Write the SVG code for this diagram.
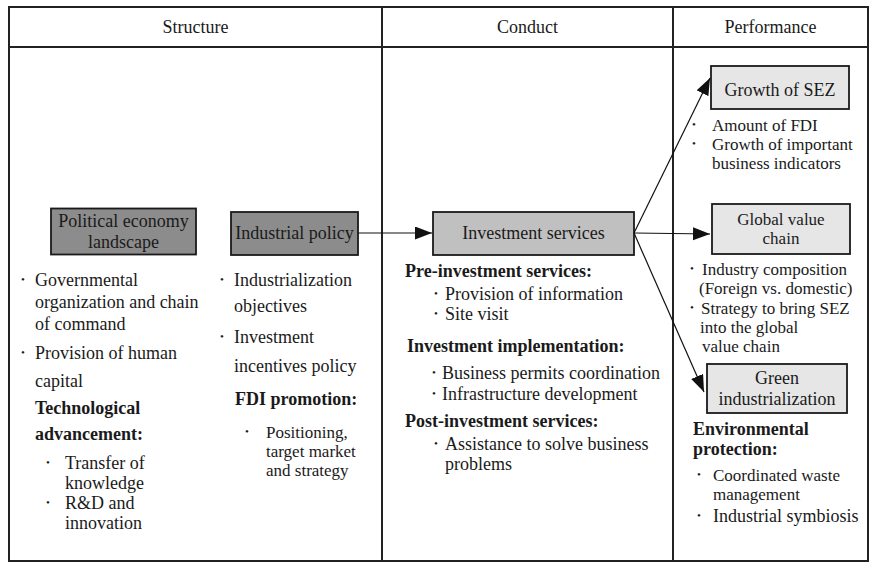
<svg xmlns="http://www.w3.org/2000/svg" width="870" height="563" viewBox="0 0 870 563">
<defs>
<style>
text{font-family:"Liberation Serif","Times New Roman",serif;font-size:18px;fill:#1a1a1a}
.b{font-weight:bold}
.c{text-anchor:middle}
.s{font-size:17px}
.d{font-size:11px}
.frame{fill:none;stroke:#222;stroke-width:2}
.dark{fill:#8c8c8c;stroke:#1a1a1a;stroke-width:1.8}
.mid{fill:#c0c0c0;stroke:#1a1a1a;stroke-width:1.8}
.light{fill:#e6e6e6;stroke:#1a1a1a;stroke-width:1.8}
.con{fill:none;stroke:#111;stroke-width:1.2}
</style>
<marker id="ah" markerUnits="userSpaceOnUse" markerWidth="18" markerHeight="14" refX="17" refY="6.5" orient="auto">
<path d="M0,0 L17,6.5 L0,13 z" fill="#111"/>
</marker>
</defs>
<rect width="870" height="563" fill="#fff"/>
<g id="table">
<rect class="frame" x="9" y="7" width="859" height="554"/>
<line class="frame" x1="9" y1="47" x2="868" y2="47"/>
<line class="frame" x1="382" y1="7" x2="382" y2="561"/>
<line class="frame" x1="673" y1="7" x2="673" y2="561"/>
<text class="c" x="195.5" y="33">Structure</text>
<text class="c" x="527.5" y="33">Conduct</text>
<text class="c" x="770.5" y="33">Performance</text>
</g>
<g id="political-economy">
<rect class="dark" x="51" y="208.5" width="145" height="46"/>
<text class="c" x="123.5" y="227">Political economy</text>
<text class="c" x="123.5" y="247.5">landscape</text>
<text class="d" x="21" y="283">•</text><text x="35" y="286">Governmental</text>
<text x="35" y="308">organization and chain</text>
<text x="35" y="330">of command</text>
<text class="d" x="21" y="356">•</text><text x="35" y="359">Provision of human</text>
<text x="35" y="387">capital</text>
<text class="b" x="35" y="414">Technological</text>
<text class="b" x="35" y="440">advancement:</text>
<text class="d" x="46" y="466">•</text><text x="65" y="469">Transfer of</text>
<text x="65" y="489">knowledge</text>
<text class="d" x="46" y="506">•</text><text x="65" y="509">R&amp;D and</text>
<text x="65" y="529">innovation</text>
</g>
<g id="industrial-policy">
<rect class="dark" x="231" y="212" width="127" height="43"/>
<text class="c" x="294.5" y="238.5">Industrial policy</text>
<text class="d" x="220" y="283">•</text><text x="234" y="286">Industrialization</text>
<text x="234" y="312">objectives</text>
<text class="d" x="220" y="340">•</text><text x="234" y="343">Investment</text>
<text x="234" y="372">incentives policy</text>
<text class="b" x="235" y="405">FDI promotion:</text>
<text class="d" x="245" y="435">•</text><text class="s" x="266" y="438">Positioning,</text>
<text class="s" x="266" y="457">target market</text>
<text class="s" x="266" y="476">and strategy</text>
</g>
<g id="investment-services">
<rect class="mid" x="433" y="212" width="201" height="43"/>
<text class="c" x="533.5" y="239">Investment services</text>
<text class="b" x="405" y="277">Pre-investment services:</text>
<text class="d" x="434" y="297">•</text><text x="445" y="300">Provision of information</text>
<text class="d" x="434" y="317">•</text><text x="445" y="320">Site visit</text>
<text class="b" x="407" y="352">Investment implementation:</text>
<text class="d" x="432" y="376">•</text><text x="442" y="379">Business permits coordination</text>
<text class="d" x="432" y="397">•</text><text x="442" y="400">Infrastructure development</text>
<text class="b" x="405" y="427">Post-investment services:</text>
<text class="d" x="434" y="447">•</text><text x="445" y="450">Assistance to solve business</text>
<text x="445" y="470">problems</text>
</g>
<g id="growth-of-sez">
<rect class="light" x="711" y="66" width="138" height="43"/>
<text class="c" x="780" y="95.5">Growth of SEZ</text>
<text class="d" x="692" y="128">•</text><text class="s" x="712" y="131">Amount of FDI</text>
<text class="d" x="692" y="147">•</text><text class="s" x="712" y="150">Growth of important</text>
<text class="s" x="712" y="169">business indicators</text>
</g>
<g id="global-value-chain">
<rect class="light" x="712" y="204" width="138" height="50"/>
<text class="c s" x="781" y="225">Global value</text>
<text class="c s" x="781" y="244">chain</text>
<text class="d" x="690" y="272">•</text><text class="s" x="702" y="275">Industry composition</text>
<text class="s" x="699" y="294">(Foreign vs. domestic)</text>
<text class="d" x="690" y="311">•</text><text class="s" x="701" y="314">Strategy to bring SEZ</text>
<text class="s" x="700" y="333">into the global</text>
<text class="s" x="702" y="352">value chain</text>
</g>
<g id="green-industrialization">
<rect class="light" x="707" y="364" width="140" height="49"/>
<text class="c" x="777" y="383.5">Green</text>
<text class="c" x="777" y="405">industrialization</text>
<text class="b" x="693" y="435">Environmental</text>
<text class="b" x="693" y="455">protection:</text>
<text class="d" x="697" y="478">•</text><text class="s" x="713" y="481">Coordinated waste</text>
<text class="s" x="713" y="500">management</text>
<text class="d" x="697" y="519">•</text><text x="713" y="522">Industrial symbiosis</text>
</g>
<g id="connectors">
<line class="con" x1="358" y1="233" x2="432" y2="233" marker-end="url(#ah)"/>
<line class="con" x1="634" y1="233" x2="710" y2="78" marker-end="url(#ah)"/>
<line class="con" x1="634" y1="233" x2="710" y2="234" marker-end="url(#ah)"/>
<line class="con" x1="634" y1="233" x2="704" y2="392" marker-end="url(#ah)"/>
</g>
</svg>
